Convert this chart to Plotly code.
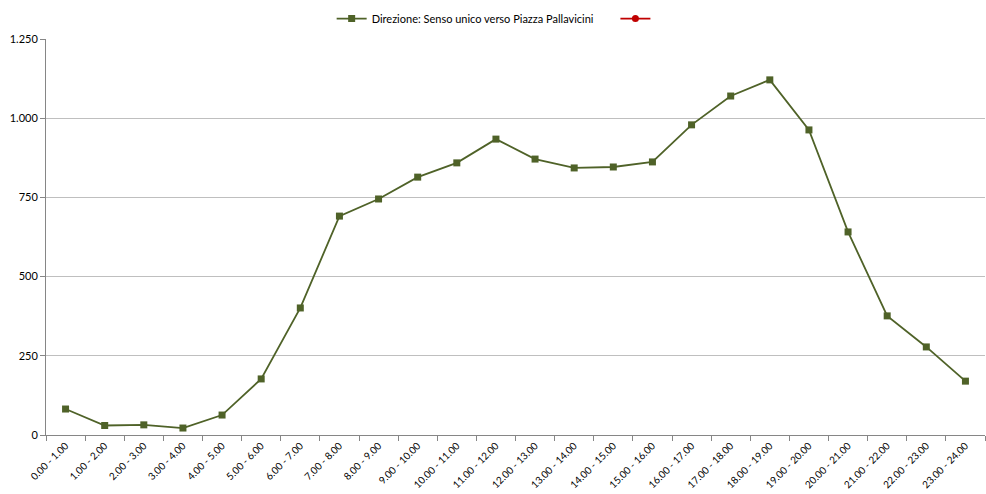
import plotly.graph_objects as go

categories = ["0.00 - 1.00", "1.00 - 2.00", "2.00 - 3.00", "3.00 - 4.00", "4.00 - 5.00",
              "5.00 - 6.00", "6.00 - 7.00", "7.00 - 8.00", "8.00 - 9.00", "9.00 - 10.00",
              "10.00 - 11.00", "11.00 - 12.00", "12.00 - 13.00", "13.00 - 14.00",
              "14.00 - 15.00", "15.00 - 16.00", "16.00 - 17.00", "17.00 - 18.00",
              "18.00 - 19.00", "19.00 - 20.00", "20.00 - 21.00", "21.00 - 22.00",
              "22.00 - 23.00", "23.00 - 24.00"]
senso_unico = [82, 30, 32, 22, 63, 177, 401, 691, 745, 814, 859, 934, 871, 843,
               846, 862, 979, 1070, 1121, 963, 641, 376, 278, 170]
second_series = [None]

fig = go.Figure()
fig.add_trace(go.Scatter(
    x=categories, y=senso_unico, mode="lines+markers",
    name="Direzione: Senso unico verso Piazza Pallavicini" + "\u00a0" * 6,
    line=dict(color="#4F6228", width=1.8),
    marker=dict(symbol="square", size=7, color="#4F6228"),
))
fig.add_trace(go.Scatter(
    x=categories[:1], y=second_series, mode="lines+markers", name=" ",
    line=dict(color="#C00000", width=1.8),
    marker=dict(symbol="circle", size=7, color="#C00000"),
    showlegend=True,
))

fig.update_layout(
    width=986, height=494,
    margin=dict(l=46, r=1, t=39, b=59),
    paper_bgcolor="white", plot_bgcolor="white",
    font=dict(family="Lato, Open Sans, sans-serif", size=11, color="#000000"),
    separators=",.",
    showlegend=True,
    legend=dict(orientation="h", x=0.481, xanchor="center", y=1.015, yanchor="bottom",
                font=dict(size=11), bgcolor="rgba(0,0,0,0)"),
)
fig.update_xaxes(
    type="category", tickangle=-45, showgrid=False, automargin=False,
    showline=True, linecolor="#868686", linewidth=1,
    ticks="outside", tickson="boundaries", ticklen=5, tickcolor="#868686",
    tickfont=dict(size=10, color="#000000"), range=[-0.5, len(categories) - 0.5],
)
fig.update_yaxes(
    range=[0, 1250], tickvals=[0, 250, 500, 750, 1000, 1250], tickformat=",d",
    showgrid=True, gridcolor="#BFBFBF", gridwidth=1, automargin=False,
    showline=True, linecolor="#868686", linewidth=1,
    ticks="outside", ticklen=5, tickcolor="#868686", zeroline=False,
    tickfont=dict(size=11, color="#000000"),
)

fig.write_html("out.html", config={"displayModeBar": False},
               post_script="document.body.style.margin='0';document.body.style.overflow='hidden';")
